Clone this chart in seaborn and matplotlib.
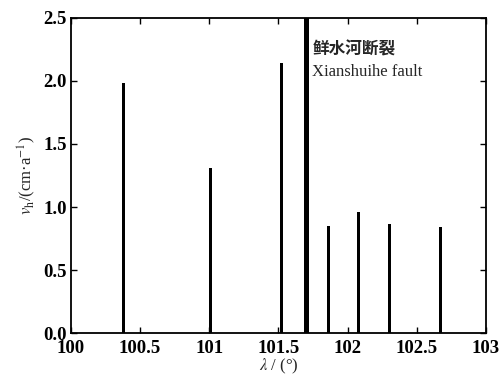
import seaborn as sns
import matplotlib.pyplot as plt
import pandas as pd

# longitude (deg) and horizontal slip rate (cm/a) along the fault
longitude = [100.38, 101.01, 101.52, 101.70, 101.86, 102.08, 102.30, 102.67]
rate = [1.98, 1.31, 2.14, 2.60, 0.85, 0.96, 0.865, 0.84]
bar_widths = [0.022, 0.02, 0.022, 0.036, 0.02, 0.02, 0.02, 0.022]

x_ticks = [100, 100.5, 101, 101.5, 102, 102.5, 103]
x_ticklabels = ["100", "100.5", "101", "101.5", "102", "102.5", "103"]
y_ticks = [0.0, 0.5, 1.0, 1.5, 2.0, 2.5]

df = pd.DataFrame({"lon": longitude, "v": rate})

sns.set_style("ticks")
plt.rcParams["font.family"] = ["Liberation Serif", "Noto Sans CJK SC"]
plt.rcParams["mathtext.fontset"] = "stix"

fig = plt.figure(figsize=(4.99, 3.79), dpi=100)
ax = fig.add_axes([0.142, 0.121, 0.832, 0.832])

sns.barplot(data=df, x="lon", y="v", native_scale=True, color="black",
            width=0.15, ax=ax, edgecolor="none")
for patch, w, x in zip(ax.patches, bar_widths, longitude):
    patch.set_width(w)
    patch.set_x(x - w / 2)

ax.set_xlim(100, 103)
ax.set_ylim(0, 2.5)
ax.set_xticks(x_ticks)
ax.set_xticklabels(x_ticklabels)
ax.set_yticks(y_ticks)
ax.set_yticklabels([f"{t:.1f}" for t in y_ticks])
ax.tick_params(direction="in", top=True, right=True, length=4, width=1,
               labelsize=13.5, colors="black")
ax.tick_params(axis="x", pad=5)
ax.tick_params(axis="y", pad=3)
for lab in ax.get_xticklabels() + ax.get_yticklabels():
    lab.set_fontweight("bold")
for sp in ax.spines.values():
    sp.set_linewidth(1.3)
    sp.set_color("black")

ax.set_xlabel(r"$\lambda$ / (°)", fontsize=12, labelpad=0)
ax.set_ylabel(r"$v_{\mathrm{h}}$/(cm·a$^{\mathrm{-1}}$)", fontsize=12, labelpad=4)

ax.text(101.75, 2.25, "鲜水河断裂", fontsize=12, fontweight="bold",
        family=["Noto Sans CJK SC"], va="center")
ax.text(101.74, 2.07, "Xianshuihe fault", fontsize=12, va="center")

fig.savefig("out.png", dpi=100)
plt.close(fig)
